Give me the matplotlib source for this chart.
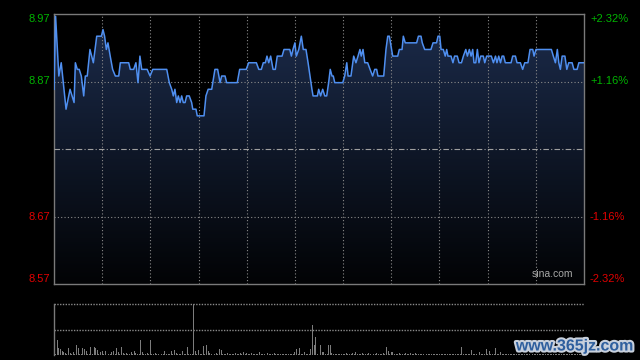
import numpy as np
import matplotlib
matplotlib.use('Agg')
import matplotlib.pyplot as plt
from matplotlib.patches import Polygon
from matplotlib.colors import LinearSegmentedColormap
import matplotlib.transforms as mtransforms
import matplotlib.patheffects as pe

plt.rcParams['font.family'] = ['Liberation Sans', 'DejaVu Sans']

# ---------------- data ----------------
prev_close = 8.77
pct_levels = [2.32, 1.16, -1.16, -2.32]
price_labels = ['8.97', '8.87', '8.67', '8.57']
pct_labels = ['+2.32%', '+1.16%', '-1.16%', '-2.32%']

# intraday price vertices (minutes from 9:30, HK session 330 minutes)
times = [
    0, 1, 3, 4.5, 7.5, 10, 12.5, 13.3, 14.5, 15.7,
    17, 18.5, 19.5, 20.7, 22.4, 24.5, 26.6, 29.5, 30.5, 31.5,
    32.6, 33.6, 35, 36.5, 38.2, 40.3, 41.3, 46.5, 47.5, 49.6,
    51, 52.3, 53.5, 54.6, 58, 59.8, 61.5, 70.2, 71.8, 73.3,
    74.3, 75.3, 76.4, 77.4, 78.5, 79.5, 80.5, 81.6, 82.6, 84.2,
    85.7, 86.4, 88.4, 89.2, 93.4, 94.6, 96, 98.2, 100.2, 101.9,
    103.4, 104.4, 106.5, 107.5, 114.1, 115.6, 119.7, 121.2, 126, 127.5,
    129.1, 130.3, 131.6, 132.6, 133.7, 134.9, 136.4, 137.8, 139, 142,
    143.2, 146.8, 147.8, 148.8, 150, 150.9, 152.4, 154, 155.2, 156.9,
    158.2, 159.4, 160.6, 161.3, 164, 164.8, 166, 167.3, 168.6, 169.8,
    171, 172, 173.1, 173.9, 174.8, 179.8, 181, 182.3, 183.1, 184.9,
    186.6, 188, 189.3, 190.5, 191.3, 192.4, 193.5, 195.3, 196.8, 198.4,
    199.7, 200.9, 201.7, 205.3, 206.7, 207.8, 208.8, 210.9, 214, 215,
    216.7, 217.5, 218.7, 225.8, 226.9, 228.5, 229.3, 230.8, 234.7, 236,
    238.2, 239.1, 240.2, 241, 242.4, 243.6, 244.5, 245.3, 247.2, 248.4,
    249.4, 251.1, 252.2, 253.7, 254.9, 256.4, 257.4, 258.6, 259.7, 260.7,
    261.5, 262.6, 263.6, 264.6, 265.7, 267.3, 268.2, 269.4, 272.3, 273.6,
    274.9, 275.8, 276.9, 278, 279, 280, 281, 284.6, 285.6, 287.3,
    288.3, 290.4, 291.8, 293.1, 295.1, 296.4, 298.1, 298.9, 300.1, 309.7,
    310.9, 312.2, 313.4, 314.3, 315.3, 316.4, 318.1, 319.3, 320.5, 322.6,
    323.7, 325.7, 326.8, 330,
]
prices = [
    8.86, 8.97, 8.88, 8.90, 8.83, 8.86, 8.84, 8.90, 8.89, 8.89,
    8.88, 8.85, 8.88, 8.88, 8.92, 8.90, 8.94, 8.94, 8.95, 8.94,
    8.92, 8.93, 8.91, 8.89, 8.88, 8.88, 8.90, 8.90, 8.89, 8.89,
    8.90, 8.87, 8.91, 8.89, 8.89, 8.88, 8.89, 8.89, 8.87, 8.86,
    8.85, 8.86, 8.84, 8.85, 8.84, 8.85, 8.84, 8.84, 8.85, 8.85,
    8.84, 8.83, 8.83, 8.82, 8.82, 8.85, 8.86, 8.86, 8.89, 8.89,
    8.87, 8.88, 8.88, 8.87, 8.87, 8.89, 8.89, 8.90, 8.90, 8.89,
    8.89, 8.90, 8.90, 8.91, 8.90, 8.91, 8.89, 8.89, 8.91, 8.91,
    8.92, 8.92, 8.91, 8.92, 8.93, 8.91, 8.92, 8.94, 8.92, 8.92,
    8.90, 8.88, 8.86, 8.85, 8.85, 8.86, 8.85, 8.86, 8.85, 8.85,
    8.87, 8.89, 8.88, 8.88, 8.87, 8.87, 8.88, 8.90, 8.88, 8.88,
    8.91, 8.90, 8.91, 8.92, 8.91, 8.92, 8.90, 8.90, 8.89, 8.88,
    8.89, 8.89, 8.88, 8.88, 8.92, 8.94, 8.94, 8.91, 8.91, 8.92,
    8.92, 8.94, 8.93, 8.93, 8.94, 8.94, 8.93, 8.92, 8.92, 8.93,
    8.93, 8.94, 8.94, 8.92, 8.92, 8.91, 8.92, 8.91, 8.91, 8.90,
    8.91, 8.91, 8.90, 8.90, 8.91, 8.92, 8.91, 8.92, 8.91, 8.92,
    8.90, 8.90, 8.92, 8.90, 8.91, 8.91, 8.90, 8.91, 8.91, 8.90,
    8.91, 8.90, 8.91, 8.90, 8.91, 8.91, 8.90, 8.90, 8.91, 8.91,
    8.90, 8.90, 8.89, 8.90, 8.90, 8.92, 8.92, 8.91, 8.92, 8.92,
    8.91, 8.90, 8.92, 8.90, 8.89, 8.91, 8.91, 8.89, 8.90, 8.90,
    8.89, 8.89, 8.90, 8.90,
]

# per-minute volume (arbitrary units), minute 0 .. 330
volume = [
    10, 10, 150, 67, 57, 43, 33, 23, 10, 67,
    23, 10, 33, 10, 100, 67, 10, 10, 67, 57,
    43, 10, 10, 83, 10, 77, 67, 50, 10, 33,
    43, 10, 43, 57, 10, 10, 33, 43, 10, 67,
    33, 10, 83, 17, 10, 23, 10, 10, 33, 10,
    43, 17, 10, 10, 150, 33, 10, 10, 23, 10,
    150, 10, 10, 23, 10, 10, 117, 10, 10, 43,
    10, 10, 10, 40, 10, 50, 23, 10, 10, 10,
    43, 10, 10, 83, 10, 10, 10, 900, 43, 10,
    50, 10, 10, 90, 10, 100, 43, 23, 10, 55,
    10, 23, 10, 60, 50, 10, 10, 10, 17, 10,
    10, 10, 10, 17, 10, 10, 17, 10, 30, 10,
    17, 10, 10, 17, 10, 10, 10, 10, 30, 10,
    10, 10, 10, 17, 10, 10, 10, 23, 10, 10,
    10, 12, 10, 8, 10, 10, 12, 10, 10, 10,
    33, 60, 10, 70, 10, 10, 30, 10, 10, 10,
    60, 300, 100, 180, 10, 57, 100, 33, 33, 10,
    10, 100, 100, 17, 10, 10, 10, 10, 10, 10,
    10, 10, 17, 10, 10, 10, 23, 10, 33, 10,
    10, 10, 17, 10, 10, 10, 17, 10, 10, 10,
    10, 17, 10, 10, 10, 23, 10, 83, 43, 10,
    33, 33, 10, 10, 10, 23, 10, 10, 10, 17,
    10, 10, 17, 10, 10, 17, 10, 10, 10, 10,
    10, 12, 10, 10, 8, 10, 10, 12, 10, 10,
    10, 10, 12, 10, 10, 10, 8, 10, 10, 12,
    10, 10, 10, 10, 77, 10, 10, 10, 10, 10,
    50, 10, 10, 10, 10, 33, 10, 10, 10, 57,
    10, 43, 10, 10, 10, 67, 10, 10, 33, 10,
    10, 12, 10, 10, 10, 8, 10, 12, 10, 10,
    10, 10, 10, 12, 10, 10, 10, 10, 8, 10,
    12, 10, 10, 10, 10, 10, 12, 10, 10, 10,
    10, 10, 8, 10, 10, 12, 10, 10, 10, 10,
    10, 12, 10, 10, 10, 10, 10, 8, 10, 10,
    900,
]

# ---------------- figure ----------------
W, H = 640, 360
fig = plt.figure(figsize=(6.4, 3.6), dpi=100, facecolor='black')


def rect(x0, y0, x1, y1):
    return [x0 / W, 1 - y1 / H, (x1 - x0) / W, (y1 - y0) / H]


ax = fig.add_axes(rect(54, 14, 584, 284))
ax.set_facecolor('black')
lo = prev_close * (1 - 0.0232)
hi = prev_close * (1 + 0.0232)

# gradient area under the price line
cmap = LinearSegmentedColormap.from_list('g', ['#020305', '#1c2c4c'])
grad = np.linspace(1, 0, 256).reshape(-1, 1)
im = ax.imshow(grad, extent=[0, 330, lo, hi], aspect='auto', cmap=cmap,
               origin='upper', vmin=0, vmax=1, zorder=1)
poly = Polygon(list(zip(times, prices)) + [(330, lo), (0, lo)], closed=True,
               transform=ax.transData, facecolor='none', edgecolor='none')
ax.add_patch(poly)
im.set_clip_path(poly)

ax.plot(times, prices, color='#4f8ff0', lw=1.1, zorder=4, solid_joinstyle='round')

ax.set_xlim(0, 330)
ax.set_ylim(lo, hi)

for t in range(30, 330, 30):
    ax.axvline(t, color='#8a8a8a', lw=0.8, ls=(0, (1, 2)), zorder=3)
for p in [1.16, -1.16]:
    ax.axhline(prev_close * (1 + p / 100), color='#8a8a8a', lw=0.8, ls=(0, (1, 2)), zorder=3)
ax.axhline(prev_close, color='#a0a0a0', lw=0.8, ls=(0, (5, 2, 1, 2)), zorder=3)

for s in ax.spines.values():
    s.set_color('#7a7a7a')
    s.set_linewidth(1)
ax.set_xticks([])
ax.set_yticks([])

tr = mtransforms.blended_transform_factory(ax.transAxes, ax.transData)
for i, (pct, lab, plab) in enumerate(zip(pct_levels, price_labels, pct_labels)):
    yv = prev_close * (1 + pct / 100)
    col = '#00b400' if pct > 0 else '#e00000'
    if i == 0:
        va = 'top'
    elif i == len(pct_levels) - 1:
        va = 'bottom'
    else:
        va = 'center'
    ax.text(-4 / 530, yv, lab, transform=tr, ha='right', va=va, color=col,
            fontsize=8, clip_on=False)
    ax.text(1 + 6 / 530, yv, plab, transform=tr, ha='left', va=va, color=col,
            fontsize=8, clip_on=False)

ax.text(573 / 530 - 54 / 530, 0.02, 'sina.com', transform=ax.transAxes,
        ha='right', va='bottom', color='#a8a8a8', fontsize=7.5, zorder=5)

# ---------------- volume panel ----------------
vax = fig.add_axes(rect(54, 304, 584, 355))
vax.set_facecolor('black')
vmax = 510
n = len(volume)
colors = ['#7c7c7c'] * (n - 1) + ['#cfcfcf']
vax.bar(np.arange(n), volume, width=0.6, color=colors, linewidth=0, zorder=2)
vax.set_xlim(0, 330)
vax.set_ylim(0, vmax)
for s in ['top', 'right', 'bottom']:
    vax.spines[s].set_visible(False)
vax.spines['left'].set_color('#7a7a7a')
vax.spines['left'].set_linewidth(1)
vax.axhline(vmax, color='#8a8a8a', lw=1, ls=(0, (1, 1)), clip_on=False, zorder=1)
vax.axhline(vmax * 0.5, color='#8a8a8a', lw=1, ls=(0, (1, 1)), zorder=1)
vax.set_xticks([])
vax.set_yticks([])

# site watermark
fig.text(575 / W, 1 - 346 / H, 'www.365jz.com', ha='center', va='center',
         color='#2f5f9e', fontsize=11.5, fontweight='bold',
         path_effects=[pe.withStroke(linewidth=3, foreground='#c8d0dc')])

fig.savefig('out.png', dpi=100, facecolor='black')
